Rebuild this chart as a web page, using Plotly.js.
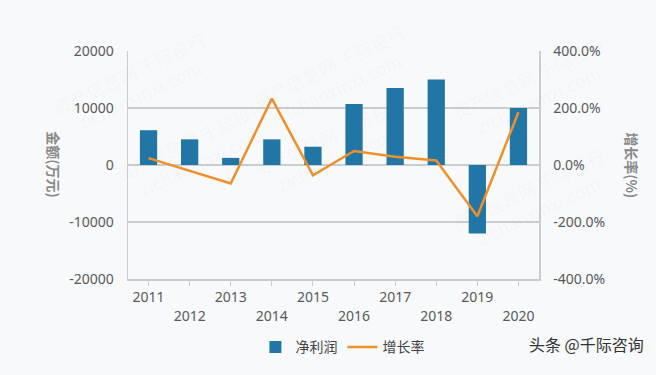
<!DOCTYPE html>
<html>
<head>
<meta charset="utf-8">
<script src="https://cdn.plot.ly/plotly-3.0.1.min.js"></script>
<style>
html,body{margin:0;padding:0;background:#f7f9fb;}
#chart{width:656px;height:375px;}
</style>
</head>
<body>
<div id="chart"></div>
<script>
const years = ["2011","2012","2013","2014","2015","2016","2017","2018","2019","2020"];
const tickLabels = ["2011","<br>2012","2013","<br>2014","2015","<br>2016","2017","<br>2018","2019","<br>2020"];
const netProfit = [6100, 4500, 1250, 4500, 3200, 10700, 13500, 15000, -12000, 10000];
const growthRate = [24, -20, -65, 233, -36, 49, 29, 16, -180, 185];
const leftTickVals = [-20000, -10000, 0, 10000, 20000];
const leftTickText = ["-20000", "-10000", "0", "10000", "20000"];
const rightTickVals = [-400, -200, 0, 200, 400];
const rightTickText = ["-400.0%", "-200.0%", "0.0%", "200.0%", "400.0%"];

const FONT = "Noto Sans, Noto Sans CJK SC, sans-serif";
const CJK = "Noto Sans CJK SC, sans-serif";
const grid = "#c9ccd0";

const traces = [
  {
    type: "bar", name: "净利润", x: years, y: netProfit,
    marker: {color: "#2176a6"}, width: 0.42, yaxis: "y"
  },
  {
    type: "scatter", mode: "lines", name: "增长率", x: years, y: growthRate,
    line: {color: "#f0902a", width: 2.5}, yaxis: "y2"
  }
];

const wm = [];
const wmPos = [[-0.2,1.12],[0.5,1.15],[1.2,1.1],[-0.05,0.3],[0.5,0.32],[1.2,0.35]];
wmPos.forEach(p => {
  wm.push({xref:"paper", yref:"paper", x:p[0], y:p[1], text:"资产信息网 千际投行<br>zichanxinxi.com",
    showarrow:false, textangle:-25, font:{family:CJK, size:18, color:"rgba(120,120,120,0.045)"}});
});

const layout = {
  width: 656, height: 375,
  paper_bgcolor: "#f7f9fb", plot_bgcolor: "#f7f9fb",
  margin: {l: 128, r: 117, t: 51, b: 91},
  font: {family: FONT, size: 14, color: "#595959"},
  showlegend: true,
  legend: {orientation: "h", x: 0.31, y: -0.3, xanchor: "left", yanchor: "middle",
    font: {family: CJK, size: 14, color: "#444"}, bgcolor: "rgba(0,0,0,0)", traceorder: "normal"},
  xaxis: {
    type: "category", tickvals: years, ticktext: tickLabels,
    showline: true, linecolor: grid, linewidth: 1.5, mirror: false,
    ticks: "outside", ticklen: 5, tickcolor: grid,
    showgrid: false, zeroline: false,
    tickfont: {family: FONT, size: 14, color: "#595959"}
  },
  yaxis: {
    range: [-20000, 20000], tickvals: leftTickVals, ticktext: leftTickText,
    showline: true, linecolor: grid, linewidth: 1.5,
    gridcolor: grid, gridwidth: 1.2, zeroline: false,
    ticks: "", ticklabelstandoff: 10,
    tickfont: {family: FONT, size: 14, color: "#595959"}
  },
  yaxis2: {
    overlaying: "y", side: "right",
    range: [-400, 400], tickvals: rightTickVals, ticktext: rightTickText,
    showline: true, linecolor: grid, linewidth: 1.5,
    showgrid: false, zeroline: false,
    ticks: "", ticklabelstandoff: 10,
    tickfont: {family: FONT, size: 14, color: "#595959"}
  },
  annotations: wm.concat([
    {xref:"paper", yref:"paper", x:-0.21, y:0.5, text:"<b>金额(万元)</b>", showarrow:false,
      textangle:90, font:{family:CJK, size:14, color:"#8a8a8a"}},
    {xref:"paper", yref:"paper", x:1.255, y:0.5, text:"<b>增长率(%)</b>", showarrow:false,
      textangle:90, font:{family:CJK, size:14, color:"#8a8a8a"}},
    {xref:"paper", yref:"paper", x:1.26, y:-0.285, xanchor:"right", yanchor:"middle",
      text:"头条 @千际咨询", showarrow:false, font:{family:CJK, size:16, color:"#333"}}
  ])
};

Plotly.newPlot("chart", traces, layout, {displayModeBar: false, staticPlot: true});
</script>
</body>
</html>
